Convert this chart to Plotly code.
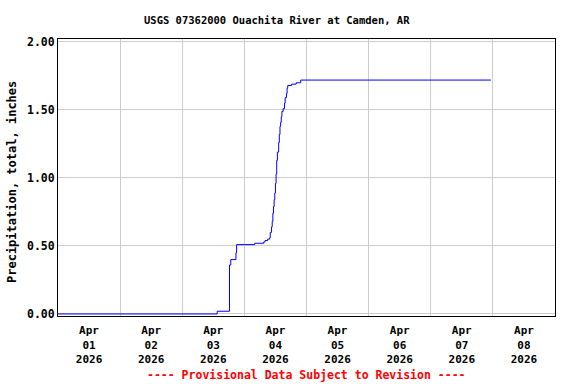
import plotly.graph_objects as go

# Cumulative precipitation readings (time, inches)
times = [
    "2026-04-01 00:00", "2026-04-03 13:30", "2026-04-03 18:15", "2026-04-03 18:45",
    "2026-04-03 20:45", "2026-04-03 21:00", "2026-04-04 04:00", "2026-04-04 07:30",
    "2026-04-04 08:00", "2026-04-04 09:00", "2026-04-04 09:45", "2026-04-04 10:00",
    "2026-04-04 10:30", "2026-04-04 10:45", "2026-04-04 11:00", "2026-04-04 11:15",
    "2026-04-04 11:30", "2026-04-04 11:45", "2026-04-04 12:00", "2026-04-04 12:15",
    "2026-04-04 12:30", "2026-04-04 12:45", "2026-04-04 13:15", "2026-04-04 13:30",
    "2026-04-04 13:45", "2026-04-04 14:00", "2026-04-04 14:15", "2026-04-04 14:30",
    "2026-04-04 15:00", "2026-04-04 15:30", "2026-04-04 15:45", "2026-04-04 16:15",
    "2026-04-04 16:30", "2026-04-04 16:45", "2026-04-04 18:15", "2026-04-04 20:00",
    "2026-04-04 21:45", "2026-04-07 23:15",
]
precip = [
    0.00, 0.02, 0.36, 0.40,
    0.45, 0.51, 0.52, 0.53,
    0.54, 0.55, 0.56, 0.60,
    0.64, 0.68, 0.74, 0.79,
    0.84, 0.89, 0.96, 1.03,
    1.13, 1.19, 1.26, 1.32,
    1.38, 1.41, 1.45, 1.49,
    1.51, 1.55, 1.59, 1.62,
    1.66, 1.68, 1.69, 1.70,
    1.72, 1.72,
]

tick_positions = [f"2026-04-{d:02d} 12:00" for d in range(1, 9)]
tick_labels = [f"Apr<br>{d:02d}<br>2026" for d in range(1, 9)]
y_ticks = [0.0, 0.5, 1.0, 1.5, 2.0]

title_text = "USGS 07362000 Ouachita River at Camden, AR"
footer_text = "---- Provisional Data Subject to Revision ----"
y_title = "Precipitation, total, inches"

FONT = "DejaVu Sans Mono"

fig = go.Figure()
fig.add_trace(go.Scatter(
    x=times, y=precip, mode="lines", line=dict(color="#0000ff", width=1, shape="hv"),
    showlegend=False, hoverinfo="skip",
))

fig.update_layout(
    width=576, height=384,
    margin=dict(l=58, r=21, t=39, b=68, autoexpand=False),
    paper_bgcolor="white", plot_bgcolor="white",
    font=dict(family=FONT, size=11, color="black"),
    annotations=[
        dict(text=f"<b>{title_text}</b>", xref="paper", yref="paper",
             x=(277 - 58) / 497, y=1 + (39 - 20) / 277, xanchor="center", yanchor="middle",
             showarrow=False, font=dict(family=FONT, size=10.5, color="black")),
        dict(text=f"<b>{footer_text}</b>", xref="paper", yref="paper",
             x=0.5, y=-(375 - 316) / 277, xanchor="center", yanchor="middle",
             showarrow=False, font=dict(family=FONT, size=11.5, color="#ff0000")),
        dict(text=f"<b>{y_title}</b>", xref="paper", yref="paper",
             x=(12 - 58) / 497, y=(316 - 182) / 277, xanchor="center", yanchor="middle",
             textangle=-90, showarrow=False,
             font=dict(family=FONT, size=12, color="black")),
    ],
)

fig.update_xaxes(
    range=["2026-04-01 00:00", "2026-04-09 00:00"],
    tickmode="array", tickvals=tick_positions,
    ticktext=[f"<b>{t}</b>" for t in tick_labels],
    tickfont=dict(family=FONT, size=11, color="black"),
    ticks="", ticklabelstandoff=4, showgrid=False, zeroline=False,
    showline=True, linecolor="black", linewidth=1, mirror=True,
    minor=dict(tick0="2026-04-01", dtick=86400000, showgrid=True,
               gridcolor="#cccccc", gridwidth=1, ticks=""),
)

fig.update_yaxes(
    range=[-0.015, 2.022],
    tickmode="array", tickvals=y_ticks,
    ticktext=[f"<b>{v:.2f}</b>" for v in y_ticks],
    tickfont=dict(family=FONT, size=11.5, color="black"),
    ticks="", showgrid=True, gridcolor="#cccccc", gridwidth=1, zeroline=False,
    showline=True, linecolor="black", linewidth=1, mirror=True,
)

fig.write_html(
    "out.html",
    config={"displayModeBar": False},
    post_script="document.body.style.margin='0';document.body.style.overflow='hidden';",
)
